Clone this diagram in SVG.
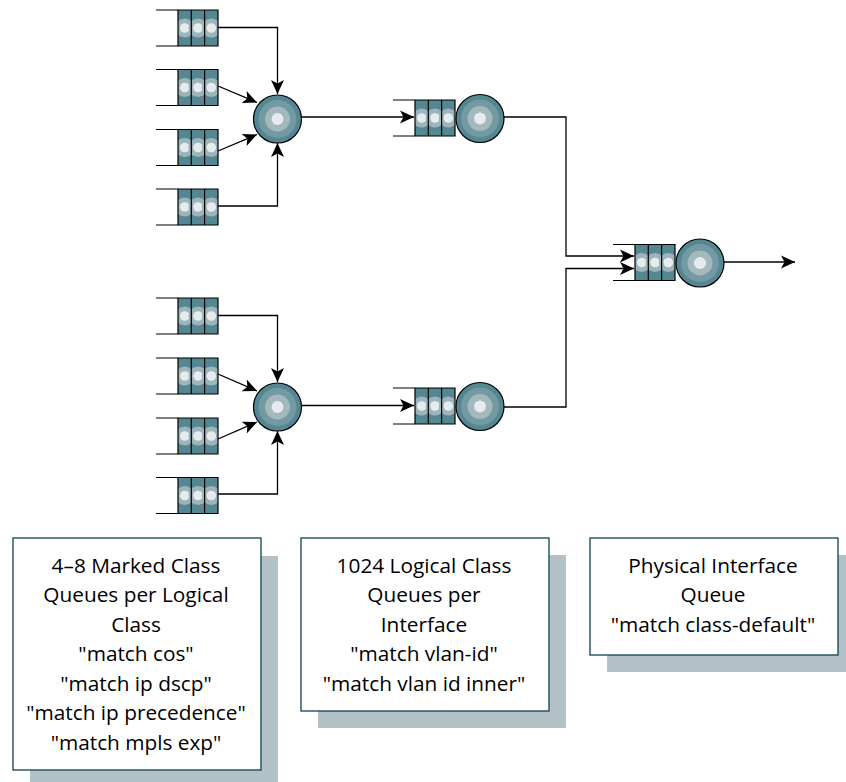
<svg xmlns="http://www.w3.org/2000/svg" width="846" height="782" viewBox="0 0 846 782">
<style>
.c{fill:none;stroke:#000;stroke-width:1.3}
.q{stroke:#000;stroke-width:1.2;fill:none}
.t{font-family:"Open Sans","Liberation Sans",Arial,sans-serif;font-size:20.8px;fill:#000;text-anchor:middle}
.s{fill:#b2c2c6}
.b{fill:#fff;stroke:#0f4350;stroke-width:1.3}
</style>
<defs>
<marker id="a" markerUnits="userSpaceOnUse" markerWidth="15" markerHeight="14" refX="14" refY="7" orient="auto"><path d="M0 0.500L14 7L0 13.500L3.500 7Z" fill="#000"/></marker>
<g id="cell"><rect x="0" y="0" width="13.4" height="36" fill="#558792"/><circle cx="6.700" cy="18" r="9.500" fill="#9db5ba"/><circle cx="6.700" cy="18" r="4.800" fill="#e6ecee"/></g>
<g id="queue">
<path class="q" d="M-22 0H0M-22 36H0"/>
<clipPath id="qc"><rect width="40" height="36"/></clipPath>
<g clip-path="url(#qc)"><use href="#cell"/><use href="#cell" x="13.3"/><use href="#cell" x="26.6"/></g>
<path class="q" d="M0 0H40V36H0ZM13.3 0V36M26.6 0V36"/>
</g>
<g id="sched"><circle r="24" fill="#558792"/><circle r="19" fill="#739aa3"/><circle r="12.500" fill="#a3b9bd"/><circle r="6" fill="#e6ecee"/><circle r="24" class="q"/></g>
</defs>
<g id="connectors">
<path class="c" d="M218 27.500H277.500V94" marker-end="url(#a)"/>
<path class="c" d="M218 86L257 102.500" marker-end="url(#a)"/>
<path class="c" d="M218 151L257 134.500" marker-end="url(#a)"/>
<path class="c" d="M218 206H277.500V143" marker-end="url(#a)"/>
<path class="c" d="M218 315.500H277.500V382" marker-end="url(#a)"/>
<path class="c" d="M218 374L257 391" marker-end="url(#a)"/>
<path class="c" d="M218 439L257 422" marker-end="url(#a)"/>
<path class="c" d="M218 494H277.500V431" marker-end="url(#a)"/>
<path class="c" d="M301 117H414" marker-end="url(#a)"/>
<path class="c" d="M301 405.500H414" marker-end="url(#a)"/>
<path class="c" d="M504 117H566V256H634" marker-end="url(#a)"/>
<path class="c" d="M504 407H566V268.500H634" marker-end="url(#a)"/>
<path class="c" d="M724 262H795" marker-end="url(#a)"/>
</g>
<g id="q1"><use href="#queue" x="178" y="10"/></g>
<g id="q2"><use href="#queue" x="178" y="69.500"/></g>
<g id="q3"><use href="#queue" x="178" y="129.500"/></g>
<g id="q4"><use href="#queue" x="178" y="189"/></g>
<g id="q5"><use href="#queue" x="178" y="298"/></g>
<g id="q6"><use href="#queue" x="178" y="358"/></g>
<g id="q7"><use href="#queue" x="178" y="418"/></g>
<g id="q8"><use href="#queue" x="178" y="477.500"/></g>
<g id="s1"><use href="#sched" x="277.500" y="119"/></g>
<g id="s2"><use href="#sched" x="277.500" y="407"/></g>
<g id="q9"><use href="#queue" x="415" y="100"/><use href="#sched" x="480" y="118.500"/></g>
<g id="q10"><use href="#queue" x="415" y="388"/><use href="#sched" x="480" y="406.500"/></g>
<g id="q11"><use href="#queue" x="635" y="244.500"/><use href="#sched" x="700" y="263"/></g>
<g id="box1">
<rect class="s" x="30" y="556" width="248" height="226"/><rect class="b" x="13" y="538" width="248" height="232"/>
<text class="t" x="136" y="573">4–8 Marked Class</text>
<text class="t" x="136" y="602">Queues per Logical</text>
<text class="t" x="136" y="632">Class</text>
<text class="t" x="136" y="661">"match cos"</text>
<text class="t" x="136" y="691">"match ip dscp"</text>
<text class="t" x="136" y="720">"match ip precedence"</text>
<text class="t" x="136" y="750">"match mpls exp"</text>
</g>
<g id="box2">
<rect class="s" x="318" y="555" width="248" height="173"/><rect class="b" x="301" y="538" width="248" height="173"/>
<text class="t" x="424" y="573">1024 Logical Class</text>
<text class="t" x="424" y="602">Queues per</text>
<text class="t" x="424" y="632">Interface</text>
<text class="t" x="424" y="661">"match vlan-id"</text>
<text class="t" x="424" y="691">"match vlan id inner"</text>
</g>
<g id="box3">
<rect class="s" x="607" y="555" width="239" height="117"/><rect class="b" x="590" y="538" width="248" height="117"/>
<text class="t" x="713" y="573">Physical Interface</text>
<text class="t" x="713" y="602">Queue</text>
<text class="t" x="713" y="632">"match class-default"</text>
</g>
</svg>
